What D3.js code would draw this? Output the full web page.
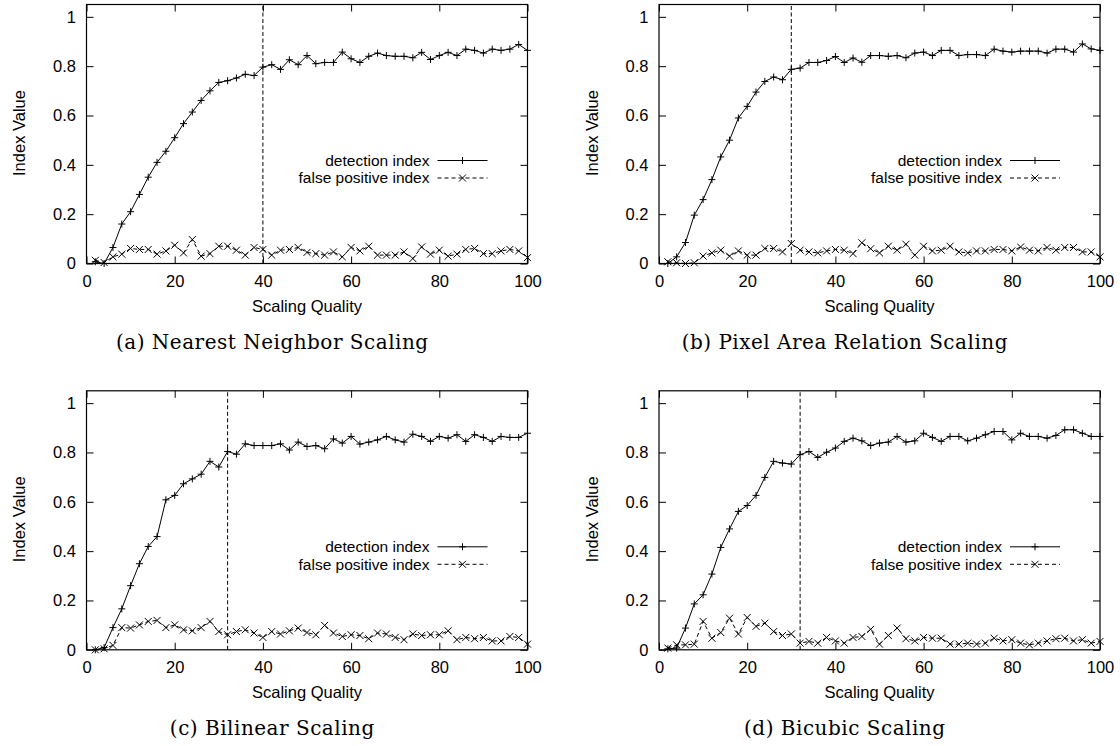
<!DOCTYPE html>
<html>
<head>
<meta charset="utf-8">
<script src="https://cdn.jsdelivr.net/npm/d3@7"></script>
<style>
  body { margin: 0; background: #fff; }
  svg { display: block; }
</style>
</head>
<body>
<script>
var width  = 1120
var height = 746

// scaling quality steps (x values)
var quality = [2, 4, 6, 8, 10, 12, 14, 16, 18, 20, 22, 24, 26, 28, 30, 32, 34, 36, 38, 40,
  42, 44, 46, 48, 50, 52, 54, 56, 58, 60, 62, 64, 66, 68, 70, 72, 74, 76, 78, 80,
  82, 84, 86, 88, 90, 92, 94, 96, 98, 100]

// (a) nearest neighbor
var nnDetection = [0.007, 0.0, 0.065, 0.16, 0.21, 0.28, 0.35, 0.41, 0.455, 0.51,
  0.567, 0.614, 0.661, 0.70, 0.734, 0.741, 0.752, 0.767, 0.762, 0.796,
  0.806, 0.787, 0.826, 0.806, 0.843, 0.81, 0.815, 0.815, 0.857, 0.83,
  0.815, 0.84, 0.853, 0.843, 0.84, 0.84, 0.834, 0.856, 0.827, 0.843,
  0.856, 0.843, 0.869, 0.864, 0.853, 0.869, 0.864, 0.869, 0.888, 0.864]
var nnFalsePos = [0.013, 0.004, 0.027, 0.038, 0.061, 0.057, 0.057, 0.038, 0.051, 0.074,
  0.043, 0.097, 0.03, 0.04, 0.07, 0.07, 0.054, 0.034, 0.065, 0.057,
  0.034, 0.054, 0.057, 0.065, 0.045, 0.04, 0.034, 0.047, 0.027, 0.065,
  0.051, 0.07, 0.034, 0.034, 0.034, 0.047, 0.02, 0.067, 0.038, 0.054,
  0.03, 0.038, 0.057, 0.061, 0.04, 0.04, 0.051, 0.057, 0.051, 0.024]

// (b) pixel area relation
var paDetection = [0.0, 0.027, 0.085, 0.196, 0.259, 0.34, 0.432, 0.50, 0.59, 0.637,
  0.695, 0.738, 0.756, 0.745, 0.787, 0.792, 0.815, 0.815, 0.823, 0.839,
  0.815, 0.833, 0.816, 0.843, 0.843, 0.84, 0.843, 0.834, 0.853, 0.857,
  0.843, 0.864, 0.864, 0.843, 0.847, 0.847, 0.843, 0.869, 0.861, 0.857,
  0.861, 0.861, 0.861, 0.853, 0.869, 0.869, 0.857, 0.89, 0.87, 0.864]
var paFalsePos = [0.007, 0.003, 0.0, 0.003, 0.03, 0.043, 0.054, 0.03, 0.051, 0.034,
  0.034, 0.061, 0.061, 0.047, 0.081, 0.054, 0.047, 0.043, 0.051, 0.057,
  0.054, 0.04, 0.084, 0.06, 0.043, 0.07, 0.054, 0.078, 0.034, 0.07,
  0.051, 0.054, 0.07, 0.047, 0.043, 0.051, 0.051, 0.057, 0.057, 0.051,
  0.067, 0.054, 0.051, 0.065, 0.054, 0.065, 0.065, 0.047, 0.047, 0.027]

// (c) bilinear
var blDetection = [0.0, 0.009, 0.09, 0.166, 0.26, 0.349, 0.419, 0.459, 0.608, 0.626,
  0.673, 0.693, 0.712, 0.764, 0.741, 0.804, 0.793, 0.835, 0.828, 0.828,
  0.828, 0.835, 0.81, 0.842, 0.824, 0.828, 0.815, 0.855, 0.838, 0.865,
  0.834, 0.842, 0.851, 0.865, 0.851, 0.842, 0.874, 0.865, 0.845, 0.865,
  0.858, 0.872, 0.845, 0.872, 0.861, 0.845, 0.865, 0.861, 0.861, 0.878]
var blFalsePos = [0.0, 0.004, 0.018, 0.09, 0.088, 0.101, 0.115, 0.119, 0.09, 0.101,
  0.081, 0.077, 0.09, 0.115, 0.074, 0.061, 0.074, 0.081, 0.068, 0.05,
  0.074, 0.064, 0.077, 0.088, 0.07, 0.061, 0.099, 0.068, 0.054, 0.061,
  0.058, 0.045, 0.068, 0.064, 0.05, 0.041, 0.064, 0.058, 0.061, 0.061,
  0.077, 0.041, 0.05, 0.045, 0.05, 0.036, 0.036, 0.054, 0.05, 0.023]

// (d) bicubic
var bcDetection = [0.004, 0.007, 0.088, 0.186, 0.223, 0.307, 0.415, 0.49, 0.561, 0.585,
  0.626, 0.699, 0.764, 0.757, 0.753, 0.791, 0.804, 0.78, 0.801, 0.818,
  0.845, 0.858, 0.847, 0.828, 0.838, 0.842, 0.865, 0.842, 0.847, 0.878,
  0.861, 0.845, 0.865, 0.865, 0.847, 0.858, 0.872, 0.885, 0.885, 0.851,
  0.878, 0.865, 0.865, 0.858, 0.869, 0.892, 0.892, 0.878, 0.865, 0.865]
var bcFalsePos = [0.007, 0.02, 0.02, 0.023, 0.115, 0.047, 0.07, 0.128, 0.064, 0.131,
  0.095, 0.108, 0.074, 0.058, 0.064, 0.027, 0.034, 0.027, 0.05, 0.036,
  0.027, 0.05, 0.054, 0.083, 0.023, 0.058, 0.088, 0.045, 0.036, 0.05,
  0.047, 0.047, 0.023, 0.023, 0.027, 0.023, 0.027, 0.047, 0.036, 0.041,
  0.027, 0.02, 0.027, 0.036, 0.045, 0.047, 0.036, 0.041, 0.027, 0.034]

var thresholds = [40, 30, 32, 32]
var captions = ['(a) Nearest Neighbor Scaling', '(b) Pixel Area Relation Scaling',
  '(c) Bilinear Scaling', '(d) Bicubic Scaling']
var seriesNames = ['detection index', 'false positive index']
var xTicks = [0, 20, 40, 60, 80, 100]
var yTicks = [0, 0.2, 0.4, 0.6, 0.8, 1]

var detections = [nnDetection, paDetection, blDetection, bcDetection]
var falsePositives = [nnFalsePos, paFalsePos, blFalsePos, bcFalsePos]

// frame positions of the four plots
var frames = [
  { left: 86.5, top: 4.5 },
  { left: 659,  top: 4.5 },
  { left: 86.5, top: 390.8 },
  { left: 659,  top: 390.8 }
]
var plotW = 441
var plotH = 259
var font = '"Liberation Sans", Arial, sans-serif'
var fontSize = 16.5
var legendSize = 15.5

var svg = d3.select('body')
  .append('svg')
  .attr('width', width)
  .attr('height', height)

svg.append('rect')
  .attr('width', width)
  .attr('height', height)
  .attr('fill', '#fff')

var plusPath = 'M-3.5,0H3.5M0,-3.5V3.5'
var crossPath = 'M-3.5,-3.5L3.5,3.5M-3.5,3.5L3.5,-3.5'

frames.forEach(function(f, i) {
  var g = svg.append('g')
    .attr('transform', 'translate(' + [f.left, f.top] + ')')

  var xScale = d3.scaleLinear()
    .domain([0, 100])
    .range([0, plotW])

  var yScale = d3.scaleLinear()
    .domain([0, 1.05])
    .range([plotH, 0])

  // axes with inward ticks, mirrored on top and right
  var axes = [
    { axis: d3.axisBottom(xScale).tickValues(xTicks).tickFormat(d3.format('d')), pos: [0, plotH], pad: 11.5 },
    { axis: d3.axisLeft(yScale).tickValues(yTicks).tickFormat(d => d === 0 || d === 1 ? d : d.toFixed(1)), pos: [0, 0], pad: 10.5 },
    { axis: d3.axisTop(xScale).tickValues(xTicks).tickFormat(''), pos: [0, 0], pad: 0 },
    { axis: d3.axisRight(yScale).tickValues(yTicks).tickFormat(''), pos: [plotW, 0], pad: 0 }
  ]
  axes.forEach(function(a) {
    var ag = g.append('g')
      .attr('transform', 'translate(' + a.pos + ')')
      .call(a.axis.tickSizeInner(-7).tickSizeOuter(0).tickPadding(a.pad))
    ag.select('.domain').remove()
    ag.selectAll('line').attr('stroke', '#000').attr('stroke-width', 1)
    ag.selectAll('text')
      .attr('fill', '#000')
      .style('font-family', font)
      .style('font-size', fontSize + 'px')
  })

  g.append('rect')
    .attr('width', plotW)
    .attr('height', plotH)
    .attr('fill', 'none')
    .attr('stroke', '#000')
    .attr('stroke-width', 1.2)

  // threshold line
  g.append('line')
    .attr('x1', xScale(thresholds[i]))
    .attr('x2', xScale(thresholds[i]))
    .attr('y1', plotH)
    .attr('y2', 0)
    .attr('stroke', '#000')
    .attr('stroke-width', 1)
    .attr('stroke-dasharray', '4,2.5')

  var line = d3.line()
    .x((d, j) => xScale(quality[j]))
    .y(d => yScale(d))

  var series = [
    { values: detections[i], dash: null, marker: plusPath },
    { values: falsePositives[i], dash: '4,3', marker: crossPath }
  ]

  series.forEach(function(s) {
    g.append('path')
      .datum(s.values)
      .attr('d', line)
      .attr('fill', 'none')
      .attr('stroke', '#000')
      .attr('stroke-width', 1)
      .attr('stroke-dasharray', s.dash)

    g.selectAll(null)
      .data(s.values)
      .enter()
      .append('path')
      .attr('transform', (d, j) => 'translate(' + [xScale(quality[j]), yScale(d)] + ')')
      .attr('d', s.marker)
      .attr('fill', 'none')
      .attr('stroke', '#000')
      .attr('stroke-width', 1)
  })

  // legend
  series.forEach(function(s, k) {
    var ly = 156 + k * 17.5
    g.append('text')
      .attr('x', 343)
      .attr('y', ly)
      .attr('dy', '0.35em')
      .attr('text-anchor', 'end')
      .style('font-family', font)
      .style('font-size', legendSize + 'px')
      .text(seriesNames[k])
    g.append('line')
      .attr('x1', 351)
      .attr('x2', 401)
      .attr('y1', ly)
      .attr('y2', ly)
      .attr('stroke', '#000')
      .attr('stroke-width', 1)
      .attr('stroke-dasharray', s.dash)
    g.append('path')
      .attr('transform', 'translate(' + [376, ly] + ')')
      .attr('d', s.marker)
      .attr('fill', 'none')
      .attr('stroke', '#000')
  })

  // axis titles
  g.append('text')
    .attr('x', plotW / 2)
    .attr('y', 307.5)
    .attr('text-anchor', 'middle')
    .style('font-family', font)
    .style('font-size', fontSize + 'px')
    .text('Scaling Quality')

  g.append('text')
    .attr('transform', 'translate(' + [-61.5, 128.5] + ') rotate(-90)')
    .attr('text-anchor', 'middle')
    .style('font-family', font)
    .style('font-size', fontSize + 'px')
    .text('Index Value')

  // sub-figure caption
  g.append('text')
    .attr('x', 185.8)
    .attr('y', 344.5)
    .attr('text-anchor', 'middle')
    .style('font-family', '"DejaVu Serif", serif')
    .style('font-size', '20px')
    .style('letter-spacing', '0.5px')
    .text(captions[i])
})
</script>
</body>
</html>
